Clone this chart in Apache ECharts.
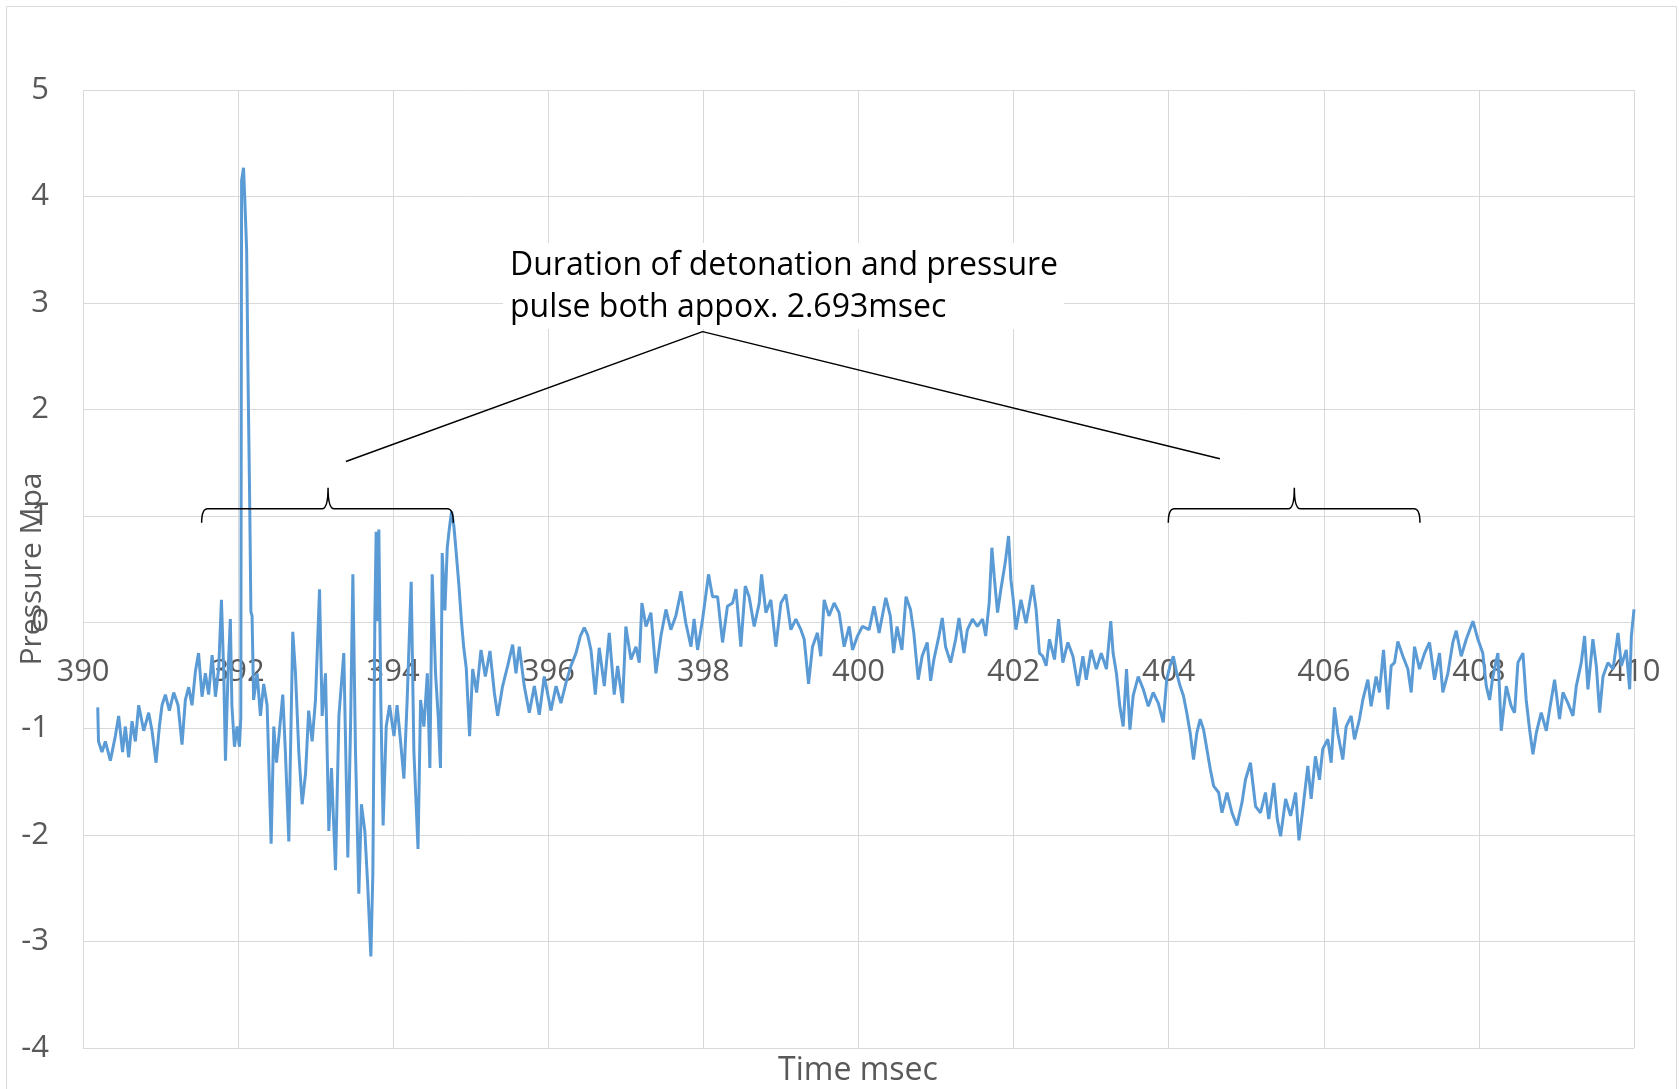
<!DOCTYPE html>
<html>
<head>
<meta charset="utf-8">
<title>Pressure vs Time</title>
<script src="https://cdn.jsdelivr.net/npm/echarts@6/dist/echarts.min.js"></script>
<style>
  html, body { margin: 0; padding: 0; background: #ffffff; }
  #chart { width: 1679px; height: 1089px; }
</style>
</head>
<body>
<div id="chart"></div>
<script>
// Pressure trace [time ms, pressure MPa], split into stretches of the record
const onsetTrace = [
  [390.19,-0.80],[390.20,-1.12],[390.245,-1.22],[390.288,-1.12],[390.353,-1.30],[390.417,-1.07],
  [390.46,-0.88],[390.51,-1.22],[390.546,-0.98],[390.589,-1.27],[390.632,-0.93],[390.675,-1.12],
  [390.718,-0.78],[390.783,-1.02],[390.847,-0.85],[390.89,-1.02],[390.942,-1.32],[390.985,-0.98],
  [391.019,-0.78],[391.062,-0.68],[391.114,-0.83],[391.17,-0.66],[391.226,-0.78],[391.277,-1.15],
  [391.32,-0.73],[391.363,-0.61],[391.406,-0.78],[391.45,-0.46],[391.49,-0.29],[391.535,-0.70],
  [391.578,-0.48],[391.62,-0.68],[391.665,-0.31],[391.708,-0.70],[391.75,-0.43],[391.785,0.21],
  [391.815,-0.48],[391.837,-1.30],[391.87,-0.48],[391.90,0.03],[391.92,-0.78],[391.953,-1.17],
  [391.987,-0.98],[392.017,-1.17]
];

const burstTrace = [
  [392.035,-0.90],[392.045,4.15],[392.07,4.27],[392.09,3.90],[392.11,3.50],[392.13,2.20],
  [392.15,1.10],[392.165,0.10],[392.18,0.06],[392.2,-0.73],[392.245,-0.48],[392.288,-0.88],
  [392.33,-0.58],[392.374,-0.78],[392.426,-2.08],[392.46,-0.98],[392.495,-1.32],[392.533,-1.02],
  [392.576,-0.68],[392.61,-1.22],[392.654,-2.06],[392.705,-0.09],[392.74,-0.48],[392.783,-1.22],
  [392.826,-1.71],[392.87,-1.42],[392.91,-0.83],[392.955,-1.12],[392.998,-0.73],[393.05,0.31],
  [393.084,-0.88],[393.127,-0.48],[393.17,-1.96],[393.204,-1.37],[393.256,-2.33],[393.3,-0.88],
  [393.363,-0.29],[393.415,-2.21],[393.45,-0.98],[393.48,0.45],[393.514,-1.22],[393.557,-2.55],
  [393.59,-1.71],[393.634,-1.96],[393.67,-2.45],[393.712,-3.14],[393.738,-2.35],[393.763,0.01],
  [393.78,0.85],[393.8,0.01],[393.815,0.87],[393.84,-0.73],[393.87,-1.91],[393.91,-0.98],
  [393.953,-0.78],[394.01,-1.07],[394.05,-0.78],[394.095,-1.12],[394.138,-1.47],[394.18,-0.73],
  [394.232,0.38],[394.267,-1.22],[394.32,-2.13],[394.353,-0.73],[394.396,-0.98],[394.44,-0.48],
  [394.473,-1.37],[394.503,0.45],[394.546,-0.48],[394.58,-0.88],[394.61,-1.37],[394.632,0.65],
  [394.667,0.11],[394.697,0.70],[394.727,0.90],[394.753,1.04],[394.783,0.90],[394.813,0.65],
  [394.847,0.35],[394.88,0.01],[394.91,-0.24],[394.942,-0.43],[394.985,-1.07]
];

const plateauTrace = [
  [395.025,-0.44],[395.076,-0.66],[395.132,-0.26],[395.188,-0.51],[395.248,-0.27],[395.304,-0.66],
  [395.347,-0.88],[395.411,-0.60],[395.476,-0.41],[395.54,-0.21],[395.583,-0.48],[395.626,-0.23],
  [395.69,-0.60],[395.755,-0.85],[395.82,-0.60],[395.884,-0.87],[395.948,-0.51],[396.034,-0.83],
  [396.1,-0.60],[396.163,-0.76],[396.228,-0.57],[396.292,-0.41],[396.357,-0.29],[396.413,-0.13],
  [396.464,-0.05],[396.507,-0.12],[396.55,-0.26],[396.606,-0.68],[396.657,-0.24],[396.722,-0.60],
  [396.786,-0.10],[396.85,-0.68],[396.894,-0.41],[396.958,-0.76],[397.0,-0.04],[397.066,-0.35],
  [397.13,-0.23],[397.173,-0.38],[397.207,0.18],[397.26,-0.04],[397.323,0.09],[397.388,-0.48],
  [397.452,-0.13],[397.517,0.12],[397.58,-0.07],[397.645,0.06],[397.71,0.29],[397.774,-0.01],
  [397.84,-0.23],[397.88,0.03],[397.925,-0.26],[397.99,0.03],[398.066,0.45],[398.118,0.24],
  [398.183,0.24],[398.247,-0.19],[398.31,0.15],[398.376,0.18],[398.42,0.31],[398.483,-0.23],
  [398.54,0.34],[398.59,0.24],[398.655,-0.04],[398.72,0.18],[398.75,0.45],[398.806,0.09],
  [398.87,0.21],[398.934,-0.23],[399.0,0.18],[399.063,0.26],[399.128,-0.07],[399.192,0.03],
  [399.257,-0.07],[399.3,-0.16],[399.356,-0.58],[399.407,-0.23],[399.47,-0.10],[399.514,-0.32],
  [399.557,0.21],[399.62,0.06],[399.686,0.18],[399.75,0.09],[399.815,-0.23],[399.88,-0.04],
  [399.923,-0.26],[399.987,-0.13],[400.05,-0.04],[400.137,-0.07],[400.2,0.15],[400.266,-0.10],
  [400.352,0.23]
];

const tailTrace = [
  [400.41,0.06],[400.453,-0.29],[400.497,-0.04],[400.56,-0.26],[400.613,0.24],[400.67,0.12],
  [400.713,-0.10],[400.77,-0.54],[400.82,-0.32],[400.886,-0.19],[400.93,-0.55],[400.972,-0.35],
  [401.037,-0.13],[401.08,0.04],[401.123,-0.23],[401.188,-0.38],[401.253,-0.16],[401.296,0.04],
  [401.36,-0.29],[401.404,-0.07],[401.47,0.03],[401.533,-0.04],[401.6,0.03],[401.64,-0.13],
  [401.685,0.18],[401.72,0.70],[401.75,0.43],[401.793,0.09],[401.836,0.31],[401.892,0.56],
  [401.935,0.81],[401.965,0.40],[401.996,0.21],[402.03,-0.07],[402.095,0.21],[402.16,-0.01],
  [402.2,0.15],[402.246,0.35],[402.29,0.12],[402.333,-0.29],[402.376,-0.32],[402.42,-0.41],
  [402.462,-0.16],[402.527,-0.35],[402.58,0.03],[402.635,-0.38],[402.7,-0.19],[402.765,-0.32],
  [402.83,-0.60],[402.894,-0.32],[402.937,-0.54],[403.0,-0.26],[403.067,-0.44],[403.13,-0.29],
  [403.197,-0.44],[403.253,0.01],[403.283,-0.29],[403.326,-0.48],[403.37,-0.79],[403.413,-0.98],
  [403.456,-0.44],[403.5,-1.01],[403.542,-0.69],[403.607,-0.51],[403.672,-0.63],[403.737,-0.79],
  [403.8,-0.66],[403.866,-0.76],[403.93,-0.94],[403.974,-0.54],[404.017,-0.41],[404.06,-0.32],
  [404.104,-0.48],[404.147,-0.60],[404.19,-0.69],[404.233,-0.85],[404.277,-1.04],[404.32,-1.29],
  [404.363,-1.04],[404.406,-0.91],[404.45,-1.01],[404.492,-1.19],[404.536,-1.38],[404.58,-1.54],
  [404.644,-1.60],[404.687,-1.79],[404.752,-1.60],[404.816,-1.79],[404.88,-1.91],[404.946,-1.69],
  [404.99,-1.48],[405.054,-1.32],[405.12,-1.73],[405.184,-1.79],[405.248,-1.60],[405.29,-1.85],
  [405.356,-1.51],[405.4,-1.85],[405.443,-2.01],[405.508,-1.66],[405.572,-1.82],[405.637,-1.60],
  [405.68,-2.05],[405.729,-1.76],[405.794,-1.35],[405.837,-1.66],[405.892,-1.26],[405.944,-1.48],
  [405.987,-1.19],[406.052,-1.10],[406.095,-1.32],[406.138,-0.80],[406.18,-1.04],[406.245,-1.29],
  [406.288,-0.98],[406.353,-0.88],[406.396,-1.10],[406.46,-0.91],[406.503,-0.73],[406.568,-0.54],
  [406.61,-0.79],[406.675,-0.51],[406.718,-0.66],[406.77,-0.26],[406.826,-0.82],[406.869,-0.41],
  [406.912,-0.38],[406.955,-0.18],[407.02,-0.32],[407.084,-0.44],[407.127,-0.66],[407.17,-0.23],
  [407.234,-0.44],[407.3,-0.29],[407.363,-0.19],[407.428,-0.54],[407.492,-0.29],[407.535,-0.66],
  [407.6,-0.48],[407.664,-0.19],[407.708,-0.08],[407.772,-0.32],[407.837,-0.16],[407.923,0.01],
  [407.987,-0.16],[408.05,-0.29],[408.095,-0.60],[408.138,-0.73],[408.18,-0.51],[408.245,-0.29],
  [408.288,-1.02],[408.353,-0.60],[408.417,-0.79],[408.46,-0.85],[408.503,-0.38],[408.568,-0.29],
  [408.61,-0.73],[408.654,-1.01],[408.697,-1.24],[408.74,-1.04],[408.804,-0.85],[408.869,-1.02],
  [408.912,-0.82],[408.976,-0.54],[409.04,-0.91],[409.084,-0.66],[409.148,-0.76],[409.213,-0.88],
  [409.256,-0.60],[409.32,-0.38],[409.363,-0.13],[409.406,-0.63],[409.47,-0.16],[409.514,-0.41],
  [409.557,-0.85],[409.6,-0.51],[409.664,-0.38],[409.73,-0.44],[409.794,-0.10],[409.837,-0.41],
  [409.9,-0.26],[409.944,-0.63],[409.966,-0.13],[410.0,0.12]
];

// Axis ranges
const timeRange = { min: 390, max: 410, step: 2 };
const pressureRange = { min: -4, max: 5, step: 1 };

// Duration braces: [start ms, end ms, middle ms, level MPa]
const braces = [
  [391.53, 394.775, 393.16, 1.066],
  [403.995, 407.24, 405.62, 1.066]
];

// Callout leader: left arm end, apex, right arm end
const leader = [[393.39, 1.51], [397.99, 2.73], [404.66, 1.535]];

const noteText = 'Duration of detonation and pressure\npulse both appox. 2.693msec';
const xTitle = 'Time msec';
const yTitle = 'Pressure Mpa';

const pressureTrace = onsetTrace.concat(burstTrace, plateauTrace, tailTrace);

const FONT = '"Open Sans", "Liberation Sans", sans-serif';
const GRID_COLOR = '#d9d9d9';
const LABEL_COLOR = '#595959';

const chart = echarts.init(document.getElementById('chart'), null, { renderer: 'canvas' });

chart.setOption({
  animation: false,
  backgroundColor: '#ffffff',
  grid: { left: 83, right: 45, top: 90, bottom: 41, containLabel: false, outerBoundsMode: 'none' },
  xAxis: {
    type: 'value',
    min: timeRange.min, max: timeRange.max, interval: timeRange.step,
    axisLine: { show: true, onZero: false, lineStyle: { color: GRID_COLOR, width: 1 } },
    axisTick: { show: false },
    axisLabel: { color: LABEL_COLOR, fontFamily: FONT, fontSize: 31, margin: 34 },
    splitLine: { show: true, lineStyle: { color: GRID_COLOR, width: 1 } }
  },
  yAxis: {
    type: 'value',
    min: pressureRange.min, max: pressureRange.max, interval: pressureRange.step,
    name: yTitle,
    nameLocation: 'middle',
    nameGap: 36,
    nameMoveOverlap: false,
    nameTextStyle: { color: LABEL_COLOR, fontFamily: FONT, fontSize: 30 },
    axisLine: { show: false },
    axisTick: { show: false },
    axisLabel: { color: LABEL_COLOR, fontFamily: FONT, fontSize: 31, margin: 34 },
    splitLine: { show: true, lineStyle: { color: GRID_COLOR, width: 1 } }
  },
  graphic: [
    {
      type: 'rect', silent: true, z: -1,
      shape: { x: 6.5, y: 6.5, width: 1670, height: 1100 },
      style: { fill: null, stroke: GRID_COLOR, lineWidth: 1 }
    },
    {
      type: 'text', silent: true,
      x: 858, y: 1071,
      style: {
        text: xTitle, fill: LABEL_COLOR, font: '32px ' + FONT,
        textAlign: 'center', textVerticalAlign: 'middle'
      }
    },
    {
      // note box: white fill hides the gridlines behind the text, sits under the leader
      type: 'text', silent: true, z: 3,
      x: 503, y: 243,
      style: {
        text: noteText, fill: '#000000', font: '32px ' + FONT,
        lineHeight: 42, textAlign: 'left', textVerticalAlign: 'top',
        backgroundColor: '#ffffff', padding: [2, 6, 0, 7]
      }
    }
  ],
  series: [
    {
      type: 'line',
      data: pressureTrace,
      showSymbol: false,
      symbol: 'none',
      lineStyle: { color: '#5b9bd5', width: 3 },
      z: 2
    },
    {
      type: 'line',
      data: leader,
      showSymbol: false,
      symbol: 'none',
      silent: true,
      lineStyle: { color: '#000000', width: 1.5 },
      z: 5
    },
    {
      type: 'custom',
      silent: true,
      z: 5,
      data: braces,
      renderItem: function (params, api) {
        const a = api.coord([api.value(0), api.value(3)]);
        const b = api.coord([api.value(1), api.value(3)]);
        const m = api.coord([api.value(2), api.value(3)]);
        const y = a[1];
        const hook = 14, tip = 21, r = 6;
        const d = [
          'M', a[0], y + hook,
          'Q', a[0], y, a[0] + r, y,
          'L', m[0] - r, y,
          'Q', m[0], y, m[0], y - tip,
          'Q', m[0], y, m[0] + r, y,
          'L', b[0] - r, y,
          'Q', b[0], y, b[0], y + hook
        ].join(' ');
        return {
          type: 'path',
          shape: { pathData: d },
          style: { fill: null, stroke: '#000000', lineWidth: 1.5 }
        };
      }
    }
  ]
});

// Move the time axis (line and labels) up so it crosses at zero pressure
const zeroY = chart.convertToPixel({ yAxisIndex: 0 }, 0);
const floorY = chart.convertToPixel({ yAxisIndex: 0 }, pressureRange.min);
chart.setOption({ xAxis: { offset: -(floorY - zeroY) } });
</script>
</body>
</html>
